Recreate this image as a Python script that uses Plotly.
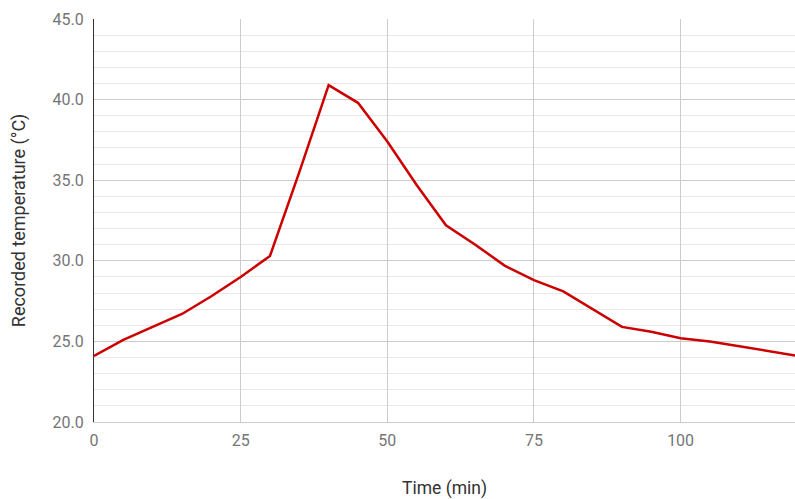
import plotly.graph_objects as go

time_min = [0, 5, 10, 15, 20, 25, 30, 35, 40, 45, 50, 55, 60, 65, 70, 75, 80, 85, 90, 95, 100, 105, 110, 115, 120]
temperature_c = [24.1, 25.1, 25.9, 26.7, 27.8, 29.0, 30.3, 35.5, 40.9, 39.8, 37.4, 34.7, 32.2, 31.0, 29.7, 28.8, 28.1, 27.0, 25.9, 25.6, 25.2, 25.0, 24.7, 24.4, 24.1]

x_ticks = [0, 25, 50, 75, 100]
y_ticks = [20, 25, 30, 35, 40, 45]

fig = go.Figure()
fig.add_trace(go.Scatter(
    x=time_min, y=temperature_c, mode="lines",
    line=dict(color="#cc0000", width=2.5),
    showlegend=False, hoverinfo="x+y",
))

fig.update_layout(
    width=795, height=499,
    margin=dict(l=94, r=0, t=19, b=77),
    paper_bgcolor="white", plot_bgcolor="white",
    font=dict(family="Roboto", size=16, color="#757575"),
    xaxis=dict(
        range=[0, 119.5], tickvals=x_ticks, ticktext=[str(v) for v in x_ticks],
        showgrid=True, gridcolor="#cccccc", gridwidth=1,
        showline=True, linecolor="#cccccc", linewidth=1,
        zeroline=False, ticks="", ticklabelstandoff=4,
        title=dict(text="Time (min)", font=dict(size=17.5, color="#333333"), standoff=41),
        automargin=False,
    ),
    yaxis=dict(
        range=[20, 45], tickvals=y_ticks, ticktext=[f"{v:.1f}" for v in y_ticks],
        showgrid=True, gridcolor="#cccccc", gridwidth=1,
        minor=dict(dtick=1, tick0=20, showgrid=True, gridcolor="#e8e8e8", gridwidth=1),
        showline=True, linecolor="#333333", linewidth=1,
        zeroline=False, ticks="", ticklabelstandoff=6,
        title=dict(text="Recorded temperature (°C)", font=dict(size=18, color="#333333"), standoff=22),
        automargin=False,
    ),
)

fig.write_html(
    "out.html",
    config={"displayModeBar": False},
    post_script="document.body.style.margin='0';document.documentElement.style.overflow='hidden';document.body.style.overflow='hidden';",
)
